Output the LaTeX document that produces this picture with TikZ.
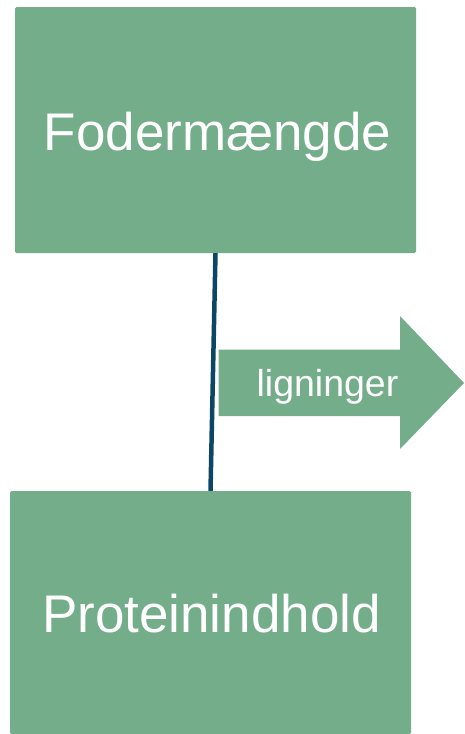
\documentclass[tikz,border=0pt]{standalone}
\usepackage{fontspec}
\setmainfont{Liberation Sans}
\usepackage{xcolor}
\usetikzlibrary{calc}
\definecolor{boxgreen}{HTML}{73AD8A}
\definecolor{linkblue}{HTML}{0B4764}

\begin{document}
\begin{tikzpicture}[x=1pt,y=-1pt]
        \tikzstyle{box}=[fill=boxgreen,draw=none,rounded corners=1.5pt,text=white,font=\fontsize{53}{60}\selectfont,inner sep=0pt,text height=37.9pt,text depth=0pt]
        \useasboundingbox (0,0) rectangle (464,734);
        \node[box,minimum width=401pt,minimum height=246pt] (foder) at (215.5,130) {};
        \node[box,minimum width=401pt,minimum height=243pt] (protein) at (210.5,612.5) {};
        \node[box,fill=none] (foderlabel) at (217.5,131.5) {Fodermængde};
        \node[box,fill=none] (proteinlabel) at (211.5,614) {Proteinindhold};
        \draw[linkblue,line width=4.5pt] (foder.south) -- (protein.north);
        % Arrow with label
        \fill[boxgreen] (218.5,349.5) -- (400,349.5) -- (400,316) -- (464,383) -- (400,449) -- (400,416) -- (218.5,416) -- cycle;
        \node[text=white,font=\fontsize{37.5}{44}\selectfont,inner sep=0pt,text height=26.9pt,text depth=0pt] (lign) at (327.5,383) {ligninger};
    \end{tikzpicture}
\end{document}
